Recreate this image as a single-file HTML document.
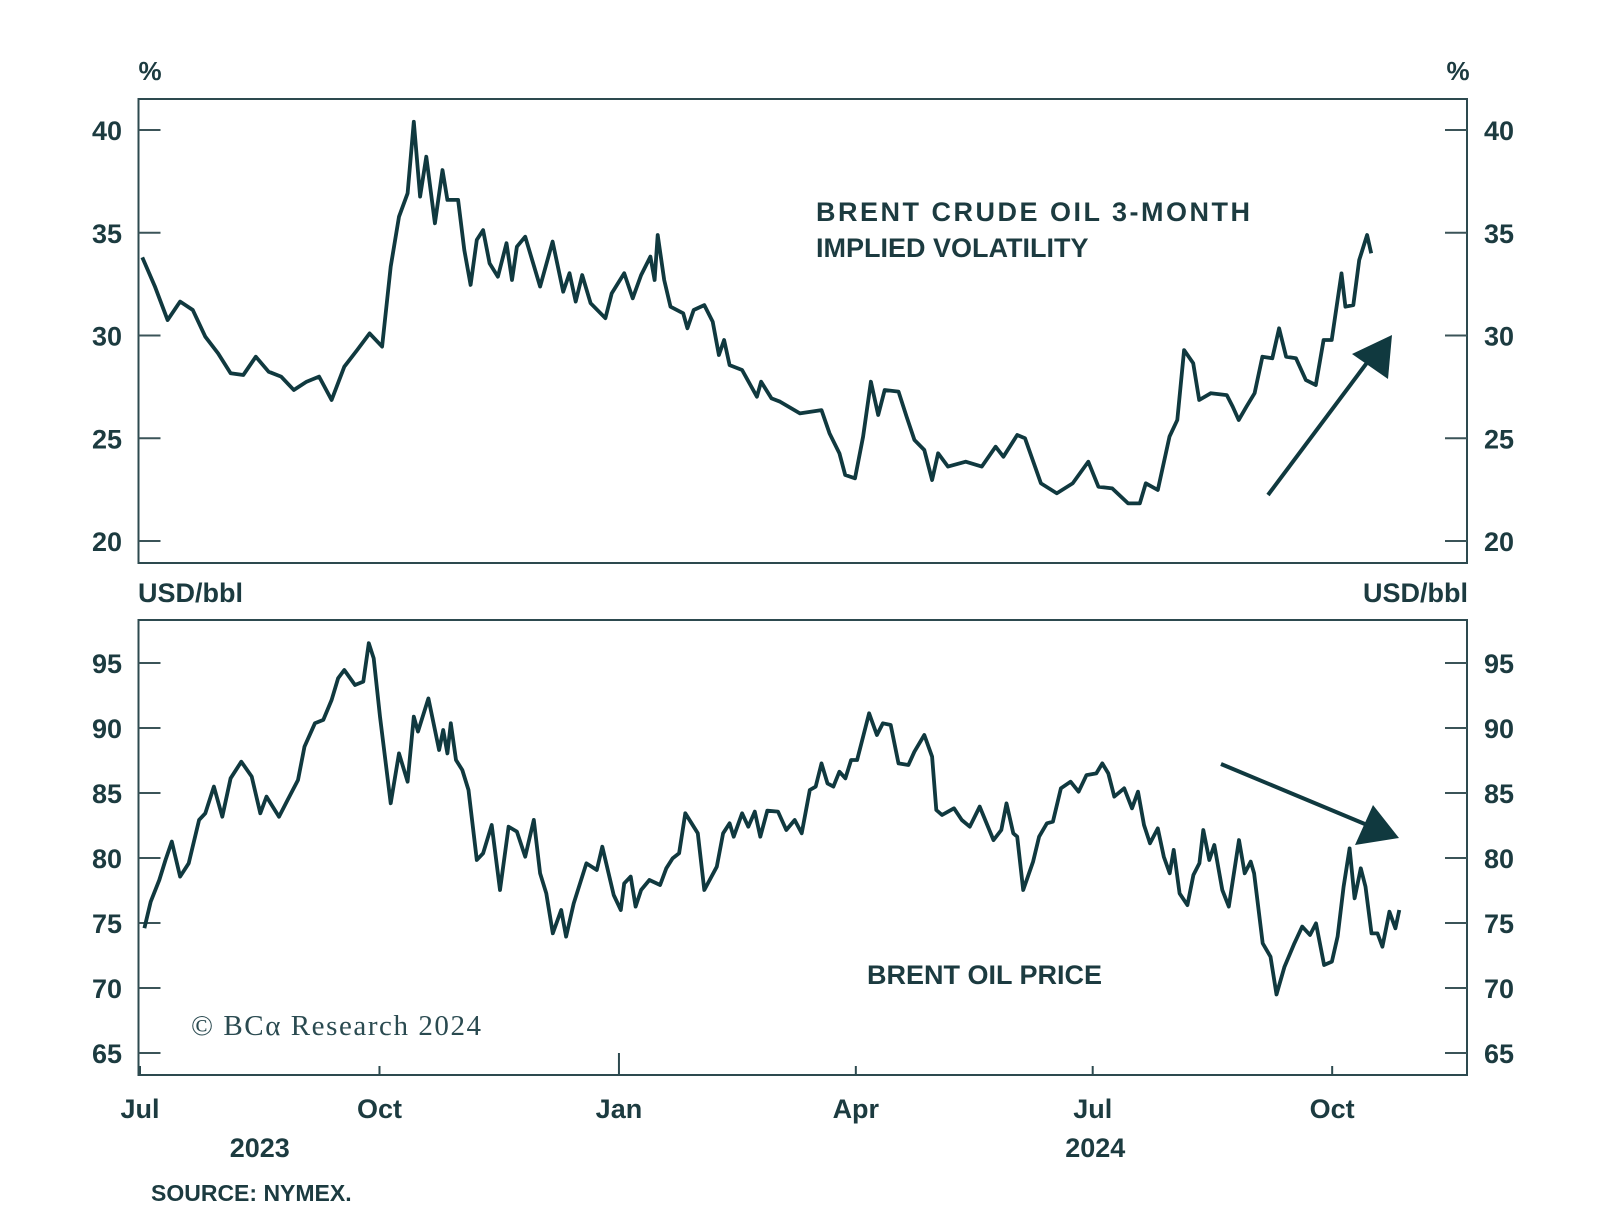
<!DOCTYPE html>
<html><head><meta charset="utf-8"><style>
html,body{margin:0;padding:0;background:#fff;}
svg{display:block;font-family:"Liberation Sans",sans-serif;}
</style></head><body>
<svg id="chart" width="1600" height="1223" viewBox="0 0 1600 1223" xmlns="http://www.w3.org/2000/svg">
<rect x="0" y="0" width="1600" height="1223" fill="#fff"/>
<g id="top"></g>
<g id="bot"></g>
<g id="xax"></g>
<text x="150" y="80" font-size="26" font-weight="bold" fill="#1c3b40" text-anchor="middle">%</text>
<text x="1458" y="80" font-size="26" font-weight="bold" fill="#1c3b40" text-anchor="middle">%</text>
<text x="138" y="602" font-size="27" font-weight="bold" fill="#1c3b40">USD/bbl</text>
<text x="1468" y="602" font-size="27" font-weight="bold" fill="#1c3b40" text-anchor="end">USD/bbl</text>
<text x="816" y="221" font-size="27" font-weight="bold" fill="#1c3b40" textLength="434">BRENT CRUDE OIL 3-MONTH</text>
<text x="816" y="257" font-size="27" font-weight="bold" fill="#1c3b40">IMPLIED VOLATILITY</text>
<text x="867" y="984" font-size="27" font-weight="bold" fill="#1c3b40">BRENT OIL PRICE</text>
<text x="191" y="1035" font-size="29" fill="#2a4a50" font-family="Liberation Serif, serif" textLength="290">© BCα Research 2024</text>
<text x="151" y="1201" font-size="23" font-weight="bold" fill="#1c3b40">SOURCE: NYMEX.</text>
<line x1="1268" y1="495" x2="1372" y2="356" stroke="#10393f" stroke-width="4"/>
<polygon points="1392,335 1352,354 1388,379" fill="#10393f"/>
<line x1="1221" y1="764" x2="1372" y2="827" stroke="#10393f" stroke-width="4"/>
<polygon points="1399,838 1373,805 1355,845" fill="#10393f"/>
</svg>
<script>
const volDays=[0.9,5.7,10.6,15.4,20.3,25.1,30.0,34.8,39.7,44.5,49.4,54.2,59.1,64.0,68.8,73.6,78.5,83.4,88.2,93.0,96.3,99.5,102.8,105.2,107.6,110.0,113.3,116.2,118.1,122.2,124.6,127.0,129.4,131.8,134.3,137.5,140.8,142.9,144.8,148.0,153.7,158.5,162.6,165.0,167.4,169.9,173.1,178.8,181.2,186.0,189.3,192.5,196.1,197.7,198.9,201.4,203.8,208.7,210.3,212.7,216.8,220.0,222.4,224.4,226.5,231.3,234.5,237.0,238.6,242.6,245.9,253.5,261.8,264.9,268.7,270.9,274.7,277.8,280.8,283.6,286.1,291.4,294.5,297.5,301.3,304.3,306.6,310.4,317.2,323.4,328.7,331.7,337.0,340.0,346.1,352.2,358.3,364.3,368.2,373.5,379.6,384.1,386.4,391.0,395.5,398.5,401.1,404.6,406.9,411.4,417.5,419.8,422.1,425.1,428.2,431.2,435.0,437.6,440.3,444.1,447.9,451.7,454.7,457.8,461.6,463.1,466.1,468.4,471.4,473.0];
const volValues=[33.8,32.4,30.75,31.65,31.24,29.94,29.13,28.16,28.08,28.97,28.24,28.0,27.35,27.75,28.0,26.86,28.48,29.29,30.1,29.46,33.35,35.78,36.92,40.4,36.76,38.7,35.46,38.05,36.6,36.6,34.16,32.46,34.65,35.13,33.51,32.86,34.49,32.7,34.32,34.81,32.38,34.57,32.13,33.03,31.65,32.94,31.57,30.84,32.05,33.03,31.81,32.94,33.84,32.7,34.89,32.7,31.4,31.08,30.35,31.24,31.48,30.67,29.05,29.78,28.56,28.32,27.59,27.02,27.75,26.94,26.78,26.21,26.37,25.24,24.27,23.21,23.05,25.08,27.75,26.13,27.35,27.27,26.05,24.92,24.43,22.97,24.27,23.62,23.86,23.62,24.59,24.1,25.16,25.0,22.81,22.32,22.81,23.86,22.64,22.56,21.83,21.83,22.81,22.48,25.08,25.89,29.29,28.65,26.86,27.19,27.1,26.54,25.89,26.54,27.19,28.97,28.89,30.35,28.97,28.89,27.83,27.59,29.78,29.78,33.02,31.4,31.48,33.67,34.89,34.0];
const priceDays=[1.7,4.1,7.4,9.8,12.2,15.4,18.7,22.7,25.1,28.4,31.6,34.8,38.9,42.9,46.2,48.6,53.4,56.7,60.7,63.2,67.2,70.4,73.6,76.1,78.5,82.6,85.8,87.9,89.8,92.2,96.3,99.5,102.8,105.2,106.8,110.8,114.9,116.5,118.1,119.4,121.4,123.8,126.2,129.4,131.8,135.1,138.3,141.6,144.8,148.0,151.3,153.7,156.1,158.6,161.8,163.7,166.6,171.5,175.5,177.6,182.0,184.7,186.0,188.5,190.4,192.5,195.7,199.8,202.2,204.6,207.1,209.5,211.9,214.3,216.8,221.6,224.0,226.5,228.1,231.3,233.7,236.2,238.3,241.0,245.1,248.3,251.5,254.2,257.3,259.6,261.8,264.1,266.4,268.7,271.0,273.2,275.5,277.8,280.1,283.1,285.4,288.4,291.4,295.2,297.5,301.3,304.3,305.9,308.1,312.7,315.7,318.8,322.6,327.9,330.9,332.9,335.5,337.0,339.3,343.1,345.4,348.4,350.7,353.8,357.5,360.6,363.6,367.4,369.7,372.0,374.3,378.1,381.1,383.4,385.7,388.0,391.0,393.3,395.6,397.1,399.4,402.4,404.7,407.0,408.5,410.8,412.7,415.8,418.3,422.2,424.4,426.7,428.0,431.3,434.3,436.6,439.7,443.5,446.5,449.5,451.8,454.9,457.9,460.1,462.4,464.7,466.6,469.0,470.8,473.1,475.4,477.3,480.0,482.3,483.8];
const priceValues=[74.6,76.64,78.31,79.85,81.26,78.57,79.59,82.93,83.44,85.49,83.18,86.13,87.41,86.26,83.44,84.72,83.18,84.46,86.0,88.57,90.36,90.62,92.15,93.82,94.46,93.31,93.57,96.52,95.36,90.87,84.21,88.05,85.87,90.87,89.72,92.28,88.31,89.85,88.05,90.36,87.54,86.77,85.23,79.85,80.36,82.54,77.54,82.41,82.03,80.1,82.93,78.82,77.28,74.21,76.0,73.95,76.51,79.59,79.08,80.87,77.15,76.0,78.05,78.57,76.26,77.54,78.31,77.92,79.21,79.97,80.36,83.44,82.67,81.9,77.54,79.33,81.9,82.67,81.64,83.44,82.41,83.57,81.64,83.64,83.57,82.15,82.92,81.9,85.23,85.49,87.28,85.74,85.49,86.64,86.13,87.54,87.54,89.33,91.13,89.46,90.36,90.23,87.28,87.15,88.18,89.46,87.79,83.69,83.31,83.82,82.92,82.41,83.95,81.38,82.15,84.2,81.9,81.64,77.54,79.72,81.64,82.67,82.79,85.36,85.87,85.1,86.38,86.51,87.28,86.51,84.72,85.36,83.82,85.1,82.54,81.13,82.28,80.1,78.82,80.62,77.28,76.38,78.69,79.59,82.15,79.85,81.0,77.54,76.26,81.38,78.82,79.72,78.82,73.44,72.41,69.5,71.64,73.44,74.72,74.08,74.97,71.77,72.03,73.95,77.79,80.74,76.9,79.21,77.79,74.2,74.2,73.18,75.87,74.59,76.0];
const volTicks=[20,25,30,35,40];
const priceTicks=[65,70,75,80,85,90,95];
const monthLabels=["Jul","Oct","Jan","Apr","Jul","Oct"];
const monthDays=[0,92,184,275,366,458];
const yearLabels=["2023","2024"];
const yearDays=[46,367];

const NS="http://www.w3.org/2000/svg";
const L=138.5,R=1467;
const xS=d=>140+d*2.603;
const yTop=v=>130+(40-v)*20.55;
const yBot=v=>663+(95-v)*13.0;
const C="#10393f";
function mk(tag,attrs,parent){const e=document.createElementNS(NS,tag);for(const k in attrs)e.setAttribute(k,attrs[k]);parent.appendChild(e);return e;}
function panel(g,top,bottom,ticks,ys,days,vals,nm){
  const fr=mk('rect',{x:L,y:top,width:R-L,height:bottom-top,fill:'none',stroke:'#2d4a4f','stroke-width':2},g);
  
  
  ticks.forEach(t=>{
    const y=ys(t);
    const a=mk('line',{x1:L,x2:L+22,y1:y,y2:y,stroke:'#3b5458','stroke-width':2},g);
    
    
    const b=mk('line',{x1:R-22,x2:R,y1:y,y2:y,stroke:'#3b5458','stroke-width':2},g);
    
    
    const tl=mk('text',{x:122,y:y+10,'font-size':27,'font-weight':'bold',fill:'#1c3b40','text-anchor':'end'},g);
    tl.textContent=t;
    
    
    const tr=mk('text',{x:1484,y:y+10,'font-size':27,'font-weight':'bold',fill:'#1c3b40'},g);
    tr.textContent=t;
    
    
  });
  let d='';
  days.forEach((dd,i)=>{d+=(i?'L':'M')+xS(dd).toFixed(1)+','+ys(vals[i]).toFixed(1);});
  const p=mk('path',{d:d,fill:'none',stroke:C,'stroke-width':3.8,'stroke-linejoin':'round'},g);
  
  
}
panel(document.getElementById('top'),99,563,volTicks,yTop,volDays,volValues,'volatility');
panel(document.getElementById('bot'),620,1075,priceTicks,yBot,priceDays,priceValues,'price');
const xg=document.getElementById('xax');
monthDays.forEach((md,i)=>{
  const x=xS(md);
  const len=(monthLabels[i]==="Jan")?22:9;
  const t=mk('line',{x1:x,x2:x,y1:1075,y2:1075-len,stroke:'#2d4a4f','stroke-width':2},xg);
  
  
  const lb=mk('text',{x:x,y:1118,'font-size':27,'font-weight':'bold',fill:'#1c3b40','text-anchor':'middle'},xg);
  lb.textContent=monthLabels[i];
  
  
});
yearDays.forEach((yd,i)=>{
  const lb=mk('text',{x:xS(yd),y:1157,'font-size':27,'font-weight':'bold',fill:'#1c3b40','text-anchor':'middle'},xg);
  lb.textContent=yearLabels[i];
  
  
});
</script>
</body></html>
